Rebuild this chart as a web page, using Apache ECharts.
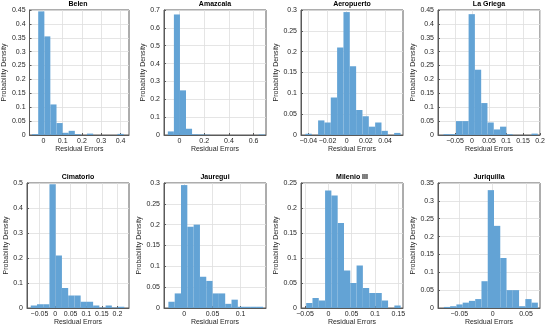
<!DOCTYPE html>
<html><head><meta charset="utf-8">
<script src="https://cdn.jsdelivr.net/npm/echarts@6/dist/echarts.min.js"></script>
<style>html,body{margin:0;padding:0;background:#fff}#c{width:550px;height:328px}</style>
</head><body><div id="c"></div><script>
const titles = ['Belen', 'Amazcala', 'Aeropuerto', 'La Griega', 'Cimatorio', 'Jauregui', 'Milenio III', 'Juriquilla'];

const belenEdges = [-0.059, -0.027, 0.005, 0.036, 0.068, 0.100, 0.131, 0.163, 0.194, 0.226, 0.258, 0.289, 0.321, 0.352, 0.384, 0.416];
const belenValues = [0.003, 0.445, 0.355, 0.110, 0.043, 0.008, 0.015, 0.003, 0, 0.005, 0, 0, 0, 0, 0.004];
const belenXTicks = [0, 0.1, 0.2, 0.3, 0.4];
const belenYTicks = [0, 0.05, 0.1, 0.15, 0.2, 0.25, 0.3, 0.35, 0.4, 0.45];
const belenXRange = [-0.072, 0.444];

const amazcalaEdges = [-0.094, -0.045, 0.004, 0.053, 0.102, 0.151, 0.2, 0.249, 0.298, 0.347, 0.396, 0.445, 0.494, 0.543, 0.592, 0.641, 0.69];
const amazcalaValues = [0.02, 0.675, 0.25, 0.035, 0.004, 0.003, 0.002, 0, 0, 0, 0, 0, 0, 0, 0, 0.003];
const amazcalaXTicks = [0, 0.2, 0.4, 0.6];
const amazcalaYTicks = [0, 0.1, 0.2, 0.3, 0.4, 0.5, 0.6, 0.7];
const amazcalaXRange = [-0.125, 0.70];

const aeropuertoEdges = [-0.043, -0.0364, -0.0298, -0.0232, -0.0166, -0.01, -0.0034, 0.0032, 0.0098, 0.0164, 0.023, 0.0296, 0.0362, 0.0428, 0.0494, 0.056];
const aeropuertoValues = [0.003, 0, 0.035, 0.03, 0.09, 0.21, 0.295, 0.165, 0.06, 0.045, 0.02, 0.03, 0.01, 0, 0.005];
const aeropuertoXTicks = [-0.04, -0.02, 0, 0.02, 0.04];
const aeropuertoYTicks = [0, 0.05, 0.1, 0.15, 0.2, 0.25, 0.3];
const aeropuertoXRange = [-0.0476, 0.0586];

const laGriegaEdges = [-0.084, -0.0655, -0.047, -0.0285, -0.01, 0.0085, 0.027, 0.0455, 0.064, 0.0825, 0.101, 0.1195, 0.138, 0.1565, 0.175, 0.1935];
const laGriegaValues = [0.003, 0.003, 0.05, 0.05, 0.435, 0.235, 0.115, 0.045, 0.02, 0.03, 0.003, 0, 0, 0, 0.005];
const laGriegaXTicks = [-0.05, 0, 0.05, 0.1, 0.15, 0.2];
const laGriegaYTicks = [0, 0.05, 0.1, 0.15, 0.2, 0.25, 0.3, 0.35, 0.4, 0.45];
const laGriegaXRange = [-0.1, 0.2];

const cimatorioEdges = [-0.078, -0.058, -0.038, -0.018, 0.002, 0.022, 0.042, 0.062, 0.082, 0.102, 0.122, 0.142, 0.162, 0.182, 0.202, 0.222];
const cimatorioValues = [0.01, 0.015, 0.015, 0.495, 0.21, 0.08, 0.05, 0.05, 0.025, 0.025, 0.01, 0.002, 0.01, 0.002, 0.005];
const cimatorioXTicks = [-0.05, 0, 0.05, 0.1, 0.15, 0.2];
const cimatorioYTicks = [0, 0.1, 0.2, 0.3, 0.4, 0.5];
const cimatorioXRange = [-0.09, 0.237];

const jaureguiEdges = [-0.0282, -0.017, -0.0058, 0.0054, 0.0166, 0.0278, 0.039, 0.0502, 0.0614, 0.0726, 0.0838, 0.095, 0.1062, 0.1174, 0.1286, 0.1398];
const jaureguiValues = [0.015, 0.035, 0.295, 0.195, 0.2, 0.075, 0.065, 0.035, 0.035, 0.01, 0.02, 0.003, 0.003, 0.003, 0.003];
const jaureguiXTicks = [0, 0.05, 0.1];
const jaureguiYTicks = [0, 0.05, 0.1, 0.15, 0.2, 0.25, 0.3];
const jaureguiXRange = [-0.036, 0.145];

const milenioEdges = [-0.0475, -0.034, -0.0205, -0.007, 0.0065, 0.02, 0.0335, 0.047, 0.0605, 0.074, 0.0875, 0.101, 0.1145, 0.128, 0.1415, 0.155];
const milenioValues = [0.01, 0.02, 0.015, 0.235, 0.225, 0.17, 0.075, 0.05, 0.085, 0.04, 0.03, 0.03, 0.015, 0, 0.005];
const milenioXTicks = [-0.05, 0, 0.05, 0.1, 0.15];
const milenioYTicks = [0, 0.05, 0.1, 0.15, 0.2, 0.25];
const milenioXRange = [-0.0586, 0.16];

const juriquillaEdges = [-0.0732, -0.0638, -0.0544, -0.045, -0.0356, -0.0262, -0.0168, -0.0074, 0.002, 0.0114, 0.0208, 0.0302, 0.0396, 0.049, 0.0584, 0.0678];
const juriquillaValues = [0.003, 0.005, 0.01, 0.015, 0.02, 0.025, 0.075, 0.33, 0.23, 0.14, 0.05, 0.05, 0.005, 0.025, 0.015];
const juriquillaXTicks = [-0.05, 0, 0.05];
const juriquillaYTicks = [0, 0.05, 0.1, 0.15, 0.2, 0.25, 0.3, 0.35];
const juriquillaXRange = [-0.082, 0.071];

const panels = [
  [belenEdges, belenValues, belenXTicks, belenYTicks, belenXRange],
  [amazcalaEdges, amazcalaValues, amazcalaXTicks, amazcalaYTicks, amazcalaXRange],
  [aeropuertoEdges, aeropuertoValues, aeropuertoXTicks, aeropuertoYTicks, aeropuertoXRange],
  [laGriegaEdges, laGriegaValues, laGriegaXTicks, laGriegaYTicks, laGriegaXRange],
  [cimatorioEdges, cimatorioValues, cimatorioXTicks, cimatorioYTicks, cimatorioXRange],
  [jaureguiEdges, jaureguiValues, jaureguiXTicks, jaureguiYTicks, jaureguiXRange],
  [milenioEdges, milenioValues, milenioXTicks, milenioYTicks, milenioXRange],
  [juriquillaEdges, juriquillaValues, juriquillaXTicks, juriquillaYTicks, juriquillaXRange]
];

// layout
const colLeft = [27, 164, 301, 438];
const rowTop = [10, 183];
const W = 102, H = 125;
const yNameGap = [18, 13, 15, 15, 16, 17, 16, 15];
const FONT = 'Liberation Sans, Arial, sans-serif';
const BAR = 'rgb(99,163,213)';
const AX = '#5a5a5a';
const TXT = '#262626';
const GRIDC = '#dedede';

function fmt(v) {
  const s = String(+v.toFixed(4));
  return s.replace('-', '\u2212');
}

const option = { animation: false, title: [], grid: [], xAxis: [], yAxis: [], series: [] };

panels.forEach((p, i) => {
  const [edges, vals, xt, yt, xr] = p;
  const col = i % 4, row = Math.floor(i / 4);
  const left = colLeft[col], top = rowTop[row];
  option.grid.push({ left: left, top: top, width: W, height: H, show: true, borderColor: AX, borderWidth: 1, backgroundColor: '#fff', containLabel: false });
  option.title.push({ text: titles[i], left: left + W / 2, top: top - 9, textAlign: 'center', padding: 0,
    textStyle: { fontFamily: FONT, fontSize: 7, fontWeight: 'bold', color: '#000' } });
  option.xAxis.push({
    type: 'value', gridIndex: i, min: xr[0], max: xr[1],
    name: 'Residual Errors', nameLocation: 'middle', nameGap: 11,
    nameTextStyle: { fontFamily: FONT, fontSize: 7, color: TXT },
    axisLine: { show: true, onZero: false, lineStyle: { color: AX, width: 1 } },
    axisTick: { show: true, inside: true, length: 2, lineStyle: { color: AX }, customValues: xt },
    axisLabel: { fontFamily: FONT, fontSize: 7, color: TXT, margin: 3, customValues: xt, formatter: fmt, showMinLabel: true, showMaxLabel: true },
    splitLine: { show: true, lineStyle: { color: GRIDC, width: 0.8 } }
  });
  option.yAxis.push({
    type: 'value', gridIndex: i, min: yt[0], max: yt[yt.length - 1], interval: yt[1] - yt[0],
    name: 'Probability Density', nameLocation: 'middle', nameGap: yNameGap[i],
    nameTextStyle: { fontFamily: FONT, fontSize: 7, color: TXT },
    axisLine: { show: true, onZero: false, lineStyle: { color: AX, width: 1 } },
    axisTick: { show: true, inside: true, length: 2, lineStyle: { color: AX } },
    axisLabel: { fontFamily: FONT, fontSize: 7, color: TXT, margin: 4, formatter: fmt },
    splitLine: { show: true, lineStyle: { color: GRIDC, width: 0.8 } }
  });
  const data = vals.map((v, k) => [edges[k], edges[k + 1], v]);
  option.series.push({
    type: 'custom', xAxisIndex: i, yAxisIndex: i, data: data,
    encode: { x: [0, 1], y: 2 },
    renderItem: function (params, api) {
      const p0 = api.coord([api.value(0), api.value(2)]);
      const p1 = api.coord([api.value(1), 0]);
      return { type: 'rect', shape: { x: p0[0], y: p0[1], width: p1[0] - p0[0], height: p1[1] - p0[1] },
        style: { fill: BAR, stroke: null } };
    }
  });
});

const chart = echarts.init(document.getElementById('c'), null, { renderer: 'canvas' });
chart.setOption(option);
</script></body></html>
